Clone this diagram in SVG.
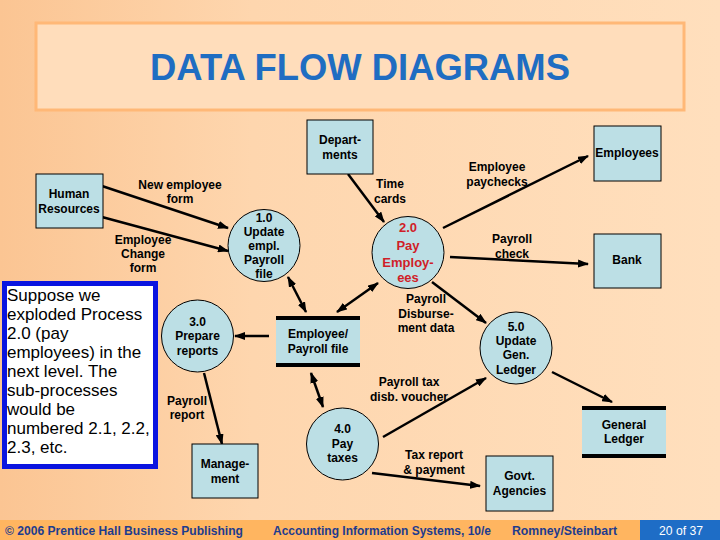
<svg xmlns="http://www.w3.org/2000/svg" width="720" height="540" viewBox="0 0 720 540">
<defs>
<linearGradient id="bg" x1="0" y1="0" x2="1" y2="0">
<stop offset="0" stop-color="#FBC593"/>
<stop offset="0.35" stop-color="#FED6AE"/>
<stop offset="1" stop-color="#FFDFBD"/>
</linearGradient>
<marker id="ah" markerWidth="11" markerHeight="8" refX="10" refY="4" orient="auto-start-reverse" markerUnits="userSpaceOnUse">
<path d="M0,0 L11,4 L0,8 z" fill="#000"/>
</marker>
<style>
.ent{fill:#BCDFE5;stroke:#000;stroke-width:1}
.proc{fill:#BCDFE5;stroke:#000;stroke-width:1}
.store{fill:#BCDFE5;stroke:none}
.bar{stroke:#000;stroke-width:4}
.t{font-family:"Liberation Sans",Arial,sans-serif;font-size:12px;font-weight:bold;fill:#000;text-anchor:middle}
.r{font-family:"Liberation Sans",Arial,sans-serif;font-size:13px;font-weight:bold;fill:#D01E28;text-anchor:middle}
.f{fill:none;stroke:#000;stroke-width:2.5;marker-end:url(#ah)}
.d{fill:none;stroke:#000;stroke-width:2.5;marker-end:url(#ah);marker-start:url(#ah)}
.ft{font-family:"Liberation Sans",Arial,sans-serif;font-size:13px;font-weight:bold;fill:#1E3C8E}
.note{font-family:"Liberation Sans",Arial,sans-serif;font-size:17px;fill:#000}
</style>
</defs>
<rect x="0" y="0" width="720" height="540" fill="url(#bg)"/>
<g id="title">
<rect x="36" y="23" width="648" height="87" fill="#FFDDBB" stroke="#FFB877" stroke-width="3"/>
<text x="360" y="80" font-family="Liberation Sans,Arial,sans-serif" font-size="37" font-weight="bold" fill="#1F6DC2" text-anchor="middle" textLength="420" lengthAdjust="spacingAndGlyphs">DATA FLOW DIAGRAMS</text>
</g>
<g id="connectors">
<line class="f" x1="102" y1="186" x2="228" y2="228"/>
<line class="f" x1="102" y1="217" x2="228" y2="251"/>
<line class="f" x1="348" y1="174" x2="384" y2="222"/>
<line class="f" x1="443" y1="228" x2="588" y2="156"/>
<line class="f" x1="450" y1="257" x2="588" y2="264"/>
<line class="f" x1="432" y1="282" x2="486" y2="323"/>
<line class="d" x1="288" y1="277" x2="306" y2="312"/>
<line class="d" x1="337" y1="312" x2="378" y2="283"/>
<line class="f" x1="269" y1="336" x2="235" y2="336"/>
<line class="d" x1="311" y1="373" x2="323" y2="407"/>
<line class="f" x1="204" y1="373" x2="222" y2="444"/>
<line class="f" x1="383" y1="437" x2="486" y2="378"/>
<line class="f" x1="372" y1="473" x2="480" y2="486"/>
<line class="f" x1="552" y1="372" x2="612" y2="402"/>
</g>
<g id="flow-labels">
<text class="t" x="180" y="189">New employee</text>
<text class="t" x="180" y="203">form</text>
<text class="t" x="143" y="244">Employee</text>
<text class="t" x="143" y="258">Change</text>
<text class="t" x="143" y="272">form</text>
<text class="t" x="390" y="188">Time</text>
<text class="t" x="390" y="203">cards</text>
<text class="t" x="497" y="171">Employee</text>
<text class="t" x="497" y="186">paychecks</text>
<text class="t" x="512" y="243">Payroll</text>
<text class="t" x="512" y="258">check</text>
<text class="t" x="426" y="303">Payroll</text>
<text class="t" x="426" y="318">Disburse-</text>
<text class="t" x="426" y="332">ment data</text>
<text class="t" x="409" y="386">Payroll tax</text>
<text class="t" x="409" y="401">disb. voucher</text>
<text class="t" x="434" y="459">Tax report</text>
<text class="t" x="434" y="474">&amp; payment</text>
<text class="t" x="187" y="405">Payroll</text>
<text class="t" x="187" y="419">report</text>
</g>
<g id="departments">
<rect class="ent" x="307" y="120" width="66" height="54"/>
<text class="t" x="340" y="144">Depart-</text>
<text class="t" x="340" y="159">ments</text>
</g>
<g id="human-resources">
<rect class="ent" x="36" y="174" width="67" height="54"/>
<text class="t" x="69" y="198">Human</text>
<text class="t" x="69" y="213">Resources</text>
</g>
<g id="p1">
<circle class="proc" cx="264" cy="245.5" r="36"/>
<text class="t" x="264" y="222">1.0</text>
<text class="t" x="264" y="236">Update</text>
<text class="t" x="264" y="250">empl.</text>
<text class="t" x="264" y="264">Payroll</text>
<text class="t" x="264" y="278">file</text>
</g>
<g id="p2">
<circle class="proc" cx="408" cy="252.5" r="36"/>
<text class="r" x="408" y="232">2.0</text>
<text class="r" x="408" y="250">Pay</text>
<text class="r" x="408" y="267">Employ-</text>
<text class="r" x="408" y="282">ees</text>
</g>
<g id="employees">
<rect class="ent" x="594" y="126" width="67" height="55"/>
<text class="t" x="627" y="157">Employees</text>
</g>
<g id="bank">
<rect class="ent" x="594" y="234" width="67" height="54"/>
<text class="t" x="627" y="264">Bank</text>
</g>
<g id="p3">
<circle class="proc" cx="197.5" cy="336" r="36"/>
<text class="t" x="197.5" y="326">3.0</text>
<text class="t" x="197.5" y="340">Prepare</text>
<text class="t" x="197.5" y="355">reports</text>
</g>
<g id="employee-payroll-file">
<rect class="store" x="276" y="318" width="84" height="47"/>
<line class="bar" x1="276" y1="318" x2="360" y2="318"/>
<line class="bar" x1="276" y1="365" x2="360" y2="365"/>
<text class="t" x="318" y="338">Employee/</text>
<text class="t" x="318" y="353">Payroll file</text>
</g>
<g id="p4">
<circle class="proc" cx="342.5" cy="444" r="36"/>
<text class="t" x="342.5" y="433">4.0</text>
<text class="t" x="342.5" y="448">Pay</text>
<text class="t" x="342.5" y="462">taxes</text>
</g>
<g id="management">
<rect class="ent" x="192" y="444" width="66" height="54"/>
<text class="t" x="225" y="468">Manage-</text>
<text class="t" x="225" y="483">ment</text>
</g>
<g id="p5">
<circle class="proc" cx="516" cy="348" r="36"/>
<text class="t" x="516" y="331">5.0</text>
<text class="t" x="516" y="345">Update</text>
<text class="t" x="516" y="359">Gen.</text>
<text class="t" x="516" y="374">Ledger</text>
</g>
<g id="general-ledger">
<rect class="store" x="582" y="408" width="84" height="48"/>
<line class="bar" x1="582" y1="408" x2="666" y2="408"/>
<line class="bar" x1="582" y1="456" x2="666" y2="456"/>
<text class="t" x="624" y="429">General</text>
<text class="t" x="624" y="443">Ledger</text>
</g>
<g id="govt-agencies">
<rect class="ent" x="486" y="456" width="67" height="55"/>
<text class="t" x="519.5" y="480">Govt.</text>
<text class="t" x="519.5" y="495">Agencies</text>
</g>
<g id="note">
<rect x="4.5" y="283.5" width="151" height="183" fill="#FFFFFF" stroke="#0A14E0" stroke-width="5"/>
<text class="note" x="7" y="301">Suppose we</text>
<text class="note" x="7" y="320">exploded Process</text>
<text class="note" x="7" y="339">2.0 (pay</text>
<text class="note" x="7" y="358">employees) in the</text>
<text class="note" x="7" y="377">next level.  The</text>
<text class="note" x="7" y="396">sub-processes</text>
<text class="note" x="7" y="415">would be</text>
<text class="note" x="7" y="434">numbered 2.1, 2.2,</text>
<text class="note" x="7" y="453">2.3, etc.</text>
</g>
<g id="footer">
<rect x="0" y="520" width="720" height="20" fill="#FFB560"/>
<rect x="640" y="520" width="80" height="20" fill="#1E6DC6"/>
<text class="ft" x="5" y="535" textLength="238" lengthAdjust="spacingAndGlyphs">© 2006 Prentice Hall Business Publishing</text>
<text class="ft" x="273" y="535" textLength="218" lengthAdjust="spacingAndGlyphs">Accounting Information Systems, 10/e</text>
<text class="ft" x="512" y="535" textLength="105" lengthAdjust="spacingAndGlyphs">Romney/Steinbart</text>
<text class="ft" x="659" y="535" textLength="44" lengthAdjust="spacingAndGlyphs" style="fill:#FFFFFF;font-weight:normal">20 of 37</text>
</g>
</svg>
